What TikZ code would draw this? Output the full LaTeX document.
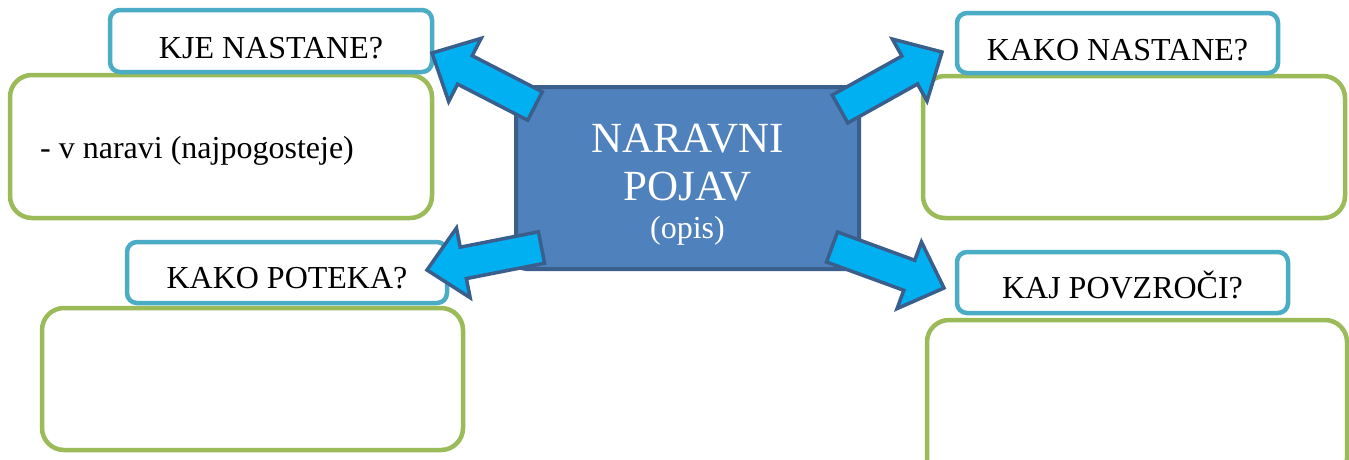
\documentclass[tikz,border=0pt]{standalone}
\usepackage{fontspec}
\setmainfont{Liberation Serif}
\usetikzlibrary{calc}
\definecolor{qblue}{HTML}{4BACC6}
\definecolor{qgreen}{HTML}{9BBB59}
\definecolor{cfill}{HTML}{4F81BD}
\definecolor{cdraw}{HTML}{3A5F8C}
\definecolor{afill}{HTML}{00B0F0}
\tikzset{
  boxbase/.style={rectangle, inner sep=0pt, outer sep=0pt, fill=white},
  qbox/.style={boxbase, draw=qblue, line width=4.5pt, rounded corners=10pt},
  abox/.style={boxbase, draw=qgreen, line width=4.5pt, rounded corners=22pt},
  cbox/.style={boxbase, draw=cdraw, line width=4pt, rounded corners=10pt, fill=cfill},
  arr/.style={draw=cdraw, line width=3.5pt, fill=afill, line join=miter},
  qtext/.style={anchor=base, inner sep=0pt, font=\fontsize{32}{38}\selectfont},
  ctext/.style={anchor=base, inner sep=0pt, text=white},
  sz/.style 2 args={minimum width=#1, minimum height=#2},
}
\newcommand\blockarrow[2]{%
  \coordinate (hb) at ($(#2)!37pt!(#1)$);
  \draw[arr] ($(#1)!16pt!90:(#2)$) -- ($(hb)!16pt!90:(#2)$) -- ($(hb)!35.5pt!90:(#2)$) -- (#2)
    -- ($(hb)!35.5pt!-90:(#2)$) -- ($(hb)!16pt!-90:(#2)$) -- ($(#1)!16pt!-90:(#2)$) -- cycle;}
\begin{document}
\begin{tikzpicture}[x=1pt,y=-1pt]
\useasboundingbox (0,0) rectangle (1349,459);
\clip (0,0) rectangle (1349,459);
\fill[white] (0,0) rectangle (1349,459);
% answer boxes
\node[abox, sz={422}{143}] (ans1) at (221,146.5) {};
\node[abox, sz={422}{142}] (ans2) at (1134,147) {};
\node[abox, sz={421}{142}] (ans3) at (252.5,379) {};
\node[abox, sz={420}{160}] (ans4) at (1137,400) {};
% question boxes
\node[qbox, sz={322}{62}] (qb1) at (271,41) {};
\node[qbox, sz={321}{60}] (qb2) at (1117.5,43) {};
\node[qbox, sz={320}{61}] (qb3) at (287,272.5) {};
\node[qbox, sz={331}{61}] (qb4) at (1122.5,282.5) {};
% centre box
\node[cbox, sz={343}{182}] (centre) at (687.5,178) {};
% arrows: tails on the centre box, tips towards the question boxes
\coordinate (tlT) at (535,106);  \coordinate (tlP) at (432,53);
\coordinate (trT) at (840,109);  \coordinate (trP) at (942,52);
\coordinate (blT) at (541.5,247.5); \coordinate (blP) at (427,270);
\coordinate (brT) at (832,247);  \coordinate (brP) at (944,288);
\blockarrow{tlT}{tlP}
\blockarrow{trT}{trP}
\blockarrow{blT}{blP}
\blockarrow{brT}{brP}
% texts
\node[qtext] (q1) at (271,58) {KJE NASTANE?};
\node[qtext] (q2) at (1117.5,60) {KAKO NASTANE?};
\node[qtext] (q3) at (287,288) {KAKO POTEKA?};
\node[qtext] (q4) at (1122.5,298) {KAJ POVZROČI?};
\node[qtext, anchor=base west] (a1) at (40,158) {- v naravi (najpogosteje)};
\node[ctext, font=\fontsize{43}{50}\selectfont] (c1) at (687.5,152) {NARAVNI};
\node[ctext, font=\fontsize{43}{50}\selectfont] (c2) at (687.5,200) {POJAV};
\node[ctext, font=\fontsize{32}{38}\selectfont] (c3) at (687.5,238) {(opis)};
\end{tikzpicture}
\end{document}
